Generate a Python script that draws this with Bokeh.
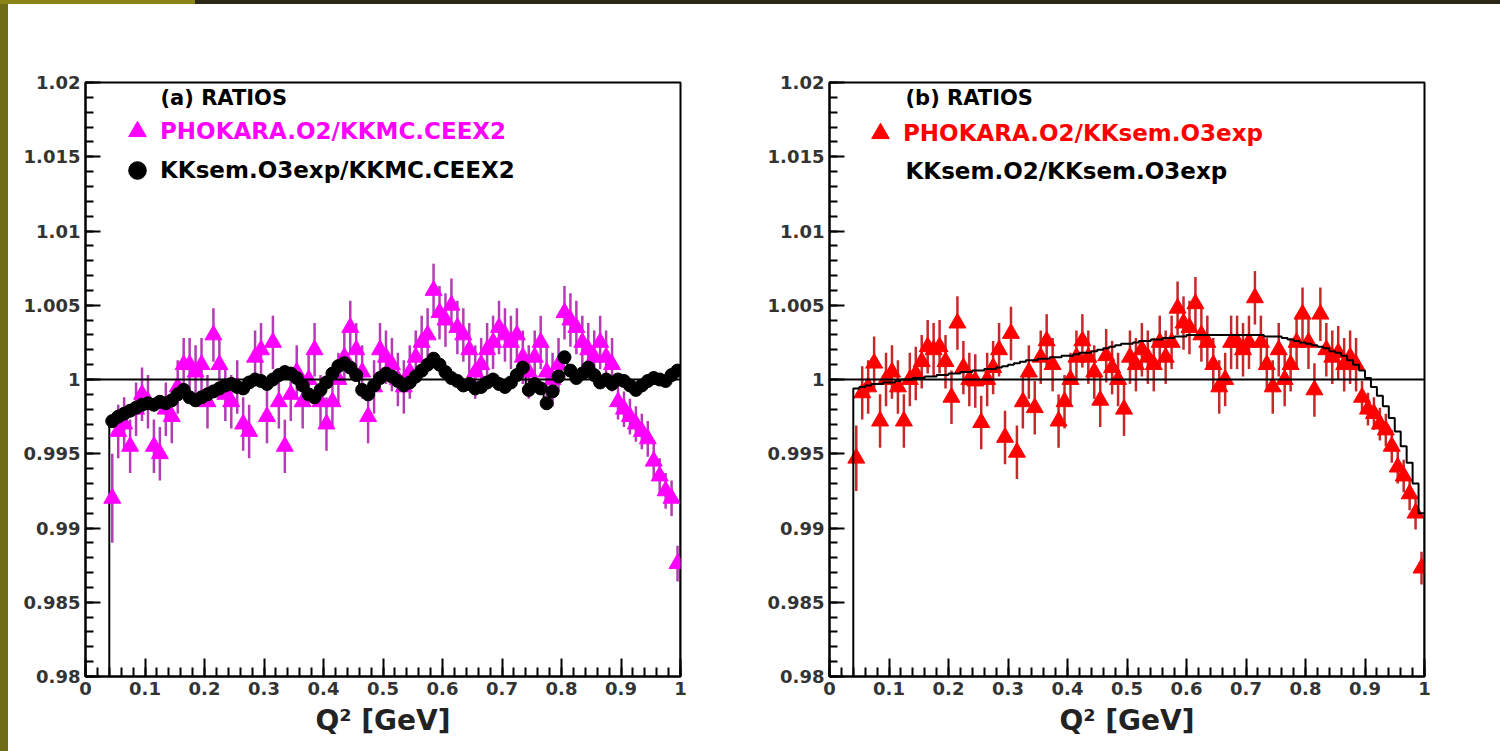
import numpy as np
from bokeh.plotting import figure
from bokeh.models import (Span, Legend, LegendItem, Label, FixedTicker,
                          CustomJSTickFormatter, Spacer)
from bokeh.layouts import row, column
from bokeh.embed import file_html
from bokeh.resources import INLINE

# ---------------- data (96 bins of width 0.01 from 0.04 to 1.00) ----------------
bin_edges = np.round(np.arange(0.04, 1.0001, 0.01), 2)

# panel (a): PHOKARA.O2/KKMC.CEEX2
ratio_phokara_kkmc = [
    0.992, 0.9965, 0.997, 0.9955, 0.998, 0.999, 0.9985, 0.9955, 0.995, 0.998,
    0.9975, 0.9995, 1.001, 1.001, 1.0005, 1.001, 0.9985, 1.003, 1.001, 0.999,
    0.9985, 0.9995, 0.997, 0.9965, 1.0015, 1.002, 0.9975, 1.0025, 0.9985, 0.9955,
    0.999, 1.0005, 0.9985, 1.0, 1.002, 0.9985, 0.997, 0.9985, 1.0, 1.0015,
    1.0035, 1.002, 1.0005, 0.9975, 0.9995, 1.002, 1.0015, 1.001, 1.0, 0.9995,
    1.0005, 1.0015, 1.0025, 1.003, 1.006, 1.0045, 1.004, 1.005, 1.0035, 1.003,
    1.002, 1.0005, 1.001, 1.002, 1.0025, 1.0035, 1.003, 1.0025, 1.003, 1.0015,
    1.0005, 1.0015, 1.0025, 1.0005, 1.0, 1.001, 1.0045, 1.004, 1.0035, 1.0025,
    1.002, 1.0015, 1.0025, 1.0015, 1.001, 0.9985, 0.998, 0.9975, 0.997, 0.9965,
    0.996, 0.9945, 0.9935, 0.9925, 0.992, 0.9876,
]
err_phokara_kkmc = [0.003] + [0.0018] * 84 + [0.0012] * 11

# panel (a): KKsem.O3exp/KKMC.CEEX2
ratio_kksem_kkmc = [
    0.9972, 0.9975, 0.9977, 0.9979, 0.9981, 0.9983, 0.9984, 0.9983, 0.9985, 0.9984,
    0.9986, 0.9990, 0.9993, 0.9988, 0.9986, 0.9988, 0.9990, 0.9992, 0.9994, 0.9996,
    0.9997, 0.9995, 0.9994, 0.9998, 1.0, 0.9999, 0.9997, 1.0, 1.0003, 1.0005,
    1.0004, 1.0001, 0.9996, 0.9990, 0.9988, 0.9993, 0.9998, 1.0004, 1.0009, 1.0011,
    1.0008, 1.0003, 0.9993, 0.9990, 0.9996, 1.0001, 1.0004, 1.0002, 0.9999, 0.9996,
    0.9998, 1.0002, 1.0006, 1.0010, 1.0014, 1.0010, 1.0005, 1.0001, 0.9999, 0.9996,
    0.9997, 0.9994, 0.9995, 0.9998, 1.0, 0.9997, 0.9995, 0.9998, 1.0003, 1.0008,
    0.9993, 0.9997, 0.9994, 0.9984, 0.9992, 1.0002, 1.0015, 1.0006, 1.0001, 1.0004,
    1.0008, 1.0003, 0.9998, 1.0, 0.9997, 1.0, 0.9999, 0.9996, 0.9993, 0.9996,
    0.9999, 1.0001, 1.0, 0.9999, 1.0003, 1.0006,
]
err_kksem_kkmc = [0.0004] * 96

# panel (b): PHOKARA.O2/KKsem.O3exp
ratio_phokara_kksem = [
    0.9947, 0.9991, 0.9995, 1.0011, 0.9972, 1.0, 1.0005, 0.9995, 0.9972, 1.0,
    1.0004, 1.0012, 1.0022, 1.002, 1.0022, 1.0012, 0.9988, 1.0038, 1.0008, 1.0,
    0.9999, 0.9971, 1.0, 1.0008, 1.002, 0.9961, 1.0031, 0.9951, 0.9985, 1.0005,
    0.9981, 1.0015, 1.0026, 1.0010, 0.9972, 0.9985, 1.0, 1.0015, 1.0026, 1.0015,
    1.0005, 0.9986, 1.0016, 1.0008, 1.0, 0.998, 1.0015, 1.001, 1.002, 1.0015,
    1.001, 1.0025, 1.0015, 1.0025, 1.0048, 1.0038, 1.0035, 1.0051, 1.003, 1.0025,
    1.001, 0.9995, 1.0, 1.0025, 1.0025, 1.002, 1.0025, 1.0055, 1.0025, 1.001,
    0.9995, 1.002, 1.0, 1.001, 1.0025, 1.0044, 1.0025, 0.9993, 1.0044, 1.002,
    1.0015, 1.0018, 1.001, 1.0015, 1.001, 0.9988, 0.998, 0.9977, 0.997, 0.9966,
    0.9955, 0.9941, 0.9935, 0.9923, 0.991, 0.9873,
]
err_phokara_kksem = [0.0022] + [0.0018] * 84 + [0.0011] * 11

# panel (b): KKsem.O2/KKsem.O3exp (histogram line)
ratio_o2_o3 = [
    0.9994, 0.9995, 0.9996, 0.9997, 0.9997, 0.9998, 0.9998, 0.9999, 1.0, 1.0,
    1.0001, 1.0001, 1.0002, 1.0002, 1.0003, 1.0003, 1.0004, 1.0004, 1.0005, 1.0005,
    1.0006, 1.0006, 1.0007, 1.0007, 1.0008, 1.0009, 1.0010, 1.0011, 1.0012, 1.0013,
    1.0013, 1.0014, 1.0014, 1.0015, 1.0015, 1.0016, 1.0016, 1.0017, 1.0018, 1.0018,
    1.0019, 1.0020, 1.0021, 1.0022, 1.0023, 1.0024, 1.0024, 1.0025, 1.0026, 1.0026,
    1.0027, 1.0027, 1.0028, 1.0028, 1.0029, 1.0029, 1.0030, 1.0030, 1.0030, 1.0030,
    1.0030, 1.0030, 1.0030, 1.0030, 1.0030, 1.0030, 1.0030, 1.0030, 1.0030, 1.0029,
    1.0029, 1.0029, 1.0028, 1.0027, 1.0026, 1.0025, 1.0024, 1.0023, 1.0022, 1.0021,
    1.0019, 1.0018, 1.0016, 1.0013, 1.0010, 1.0006, 1.0001, 0.9995, 0.9989, 0.9982,
    0.9974, 0.9965, 0.9955, 0.9944, 0.9930, 0.9910,
]

x_major = [round(0.1 * i, 1) for i in range(11)]
x_minor = [round(0.02 * i, 2) for i in range(51)]
y_major = [round(0.98 + 0.005 * i, 3) for i in range(9)]
y_minor = [round(0.98 + 0.001 * i, 3) for i in range(41)]

FONT = "DejaVu Sans"
MAGENTA = "#ff00ff"
RED = "#ff0000"


def hist_outline(edges, vals):
    xs = [edges[0]]
    ys = [0.0]
    for i, v in enumerate(vals):
        xs += [edges[i], edges[i + 1]]
        ys += [v, v]
    xs.append(edges[-1])
    ys.append(0.0)
    return xs, ys


def make_fig(width, height, bl, br, bt, bb):
    p = figure(width=width, height=height, x_range=(0, 1), y_range=(0.98, 1.02),
               output_backend="svg", toolbar_location=None,
               min_border_left=bl, min_border_right=br,
               min_border_top=bt, min_border_bottom=bb)
    p.background_fill_color = "white"
    p.border_fill_color = "white"
    p.outline_line_color = "black"
    p.outline_line_width = 2
    p.xgrid.visible = False
    p.ygrid.visible = False
    fmt = CustomJSTickFormatter(code="""
        var s = tick.toFixed(3);
        s = s.replace(/0+$/, '').replace(/\\.$/, '');
        return s;
    """)
    p.xaxis.ticker = FixedTicker(ticks=x_major, minor_ticks=x_minor)
    p.yaxis.ticker = FixedTicker(ticks=y_major, minor_ticks=y_minor)
    for ax in (p.xaxis[0], p.yaxis[0]):
        ax.formatter = fmt
        ax.axis_line_width = 2
        ax.major_tick_line_width = 2
        ax.minor_tick_line_width = 2
        ax.major_tick_out = 0
        ax.minor_tick_out = 0
        ax.major_label_text_font = FONT
        ax.major_label_text_font_style = "bold"
        ax.major_label_text_font_size = "18px"
        ax.major_label_text_color = "#333333"
        ax.major_label_standoff = 5
    p.xaxis.major_tick_in = 18
    p.xaxis.minor_tick_in = 9
    p.yaxis.major_tick_in = 15
    p.yaxis.minor_tick_in = 8
    p.xaxis.axis_label = "Q² [GeV]"
    p.xaxis.axis_label_text_font = FONT
    p.xaxis.axis_label_text_font_style = "bold"
    p.xaxis.axis_label_text_font_size = "28px"
    p.xaxis.axis_label_text_color = "#222222"
    p.xaxis.axis_label_standoff = 6
    p.add_layout(Span(location=1.0, dimension="width", line_color="black", line_width=2))
    return p


def draw_points(p, vals, errs, marker, size, color, ecolor):
    lo = bin_edges[:-1]
    hi = bin_edges[1:]
    xc = (lo + hi) / 2
    v = np.array(vals)
    e = np.array(errs)
    p.segment(x0=xc, y0=v - e, x1=xc, y1=v + e, line_color=ecolor, line_width=2.5)
    p.segment(x0=lo, y0=v, x1=hi, y1=v, line_color=color, line_width=3)
    return p.scatter(x=xc, y=v, marker=marker, size=size, fill_color=color, line_color=color)


def text_label(p, x, y, txt, color, size="21px"):
    p.add_layout(Label(x=x, y=y, x_units="screen", y_units="screen", text=txt,
                       text_font=FONT, text_font_style="bold", text_font_size=size,
                       text_color=color, text_baseline="middle", text_align="left"))


def marker_legend(p, renderer, label, color, loc):
    leg = Legend(items=[LegendItem(label=label, renderers=[renderer])], location=loc,
                 padding=0, margin=0, spacing=0, glyph_width=44, glyph_height=44,
                 label_standoff=1, label_height=44,
                 label_text_font=FONT, label_text_font_style="bold",
                 label_text_font_size="23px", label_text_color=color,
                 background_fill_alpha=0, border_line_alpha=0)
    p.add_layout(leg)


# ---------------- panel (a) ----------------
pa = make_fig(742, 747, 77, 70, 78, 75)
hx, hy = hist_outline(bin_edges, ratio_kksem_kkmc)
pa.line(hx, hy, line_color="black", line_width=2)
ra = draw_points(pa, ratio_phokara_kkmc, err_phokara_kkmc, "triangle", 17, MAGENTA, "#b43cb4")
rb = draw_points(pa, ratio_kksem_kkmc, err_kksem_kkmc, "circle", 13, "black", "black")
text_label(pa, 75, 579, "(a) RATIOS", "black")
marker_legend(pa, ra, "PHOKARA.O2/KKMC.CEEX2", MAGENTA, (30, 523))
marker_legend(pa, rb, "KKsem.O3exp/KKMC.CEEX2", "black", (30, 484))

# ---------------- panel (b) ----------------
pb = make_fig(750, 747, 79, 76, 78, 75)
hx2, hy2 = hist_outline(bin_edges, ratio_o2_o3)
rc = draw_points(pb, ratio_phokara_kksem, err_phokara_kksem, "triangle", 17, RED, "#c42a2a")
pb.line(hx2, hy2, line_color="black", line_width=2)
text_label(pb, 76, 579, "(b) RATIOS", "black")
marker_legend(pb, rc, "PHOKARA.O2/KKsem.O3exp", RED, (29, 521))
text_label(pb, 76, 506, "KKsem.O2/KKsem.O3exp", "black", "23px")

# ---------------- slide frame ----------------
top_strip = row(Spacer(width=195, height=4, styles={"background-color": "#8a8318"}),
                Spacer(width=1305, height=4, styles={"background-color": "#2b2916"}))
left_strip = Spacer(width=8, height=747, styles={"background-color": "#6e6c14"})
layout = column(top_strip, row(left_strip, pa, pb))

open("out.html", "w").write(file_html(layout, INLINE))
